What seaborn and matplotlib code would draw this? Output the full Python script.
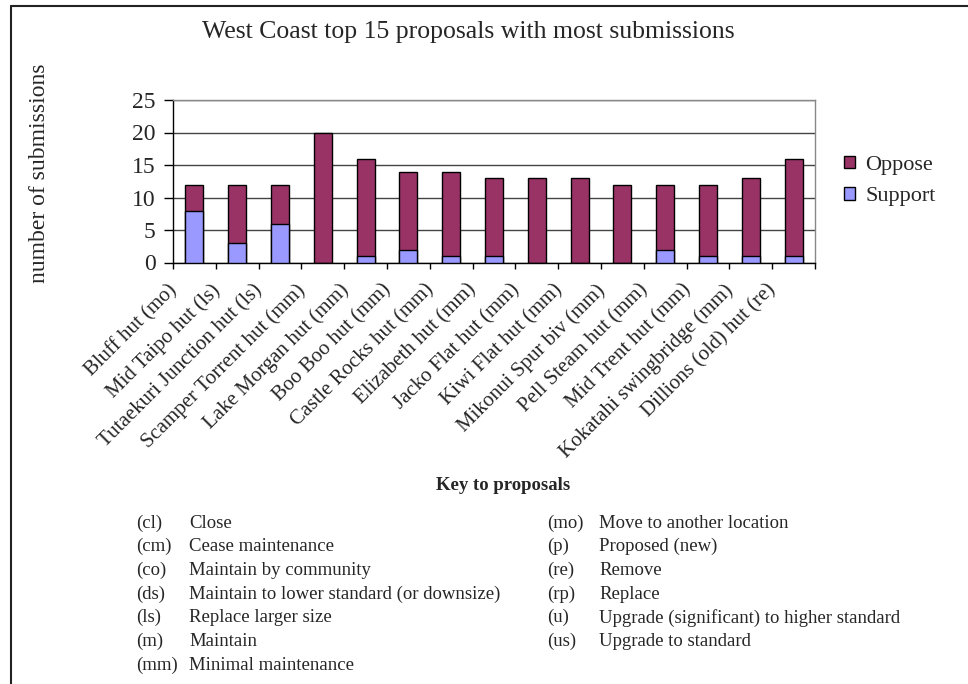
import numpy as np
import pandas as pd
import matplotlib
matplotlib.use("Agg")
import matplotlib.pyplot as plt
import matplotlib.transforms as mtransforms
from matplotlib.lines import Line2D
from matplotlib.patches import Patch
import seaborn as sns

# data
proposals = ["Bluff hut (mo)", "Mid Taipo hut (ls)", "Tutaekuri Junction hut (ls)",
             "Scamper Torrent hut (mm)", "Lake Morgan hut (mm)", "Boo Boo hut (mm)",
             "Castle Rocks hut (mm)", "Elizabeth hut (mm)", "Jacko Flat hut (mm)",
             "Kiwi Flat hut (mm)", "Mikonui Spur biv (mm)", "Pell Steam hut (mm)",
             "Mid Trent hut (mm)", "Kokatahi swingbridge (mm)", "Dillions (old) hut (re)"]
support = [8, 3, 6, 0, 1, 2, 1, 1, 0, 0, 0, 2, 1, 1, 1]
oppose = [4, 9, 6, 20, 15, 12, 13, 12, 13, 13, 12, 10, 11, 12, 15]

key_left = [("(cl)", "Close"), ("(cm)", "Cease maintenance"), ("(co)", "Maintain by community"),
            ("(ds)", "Maintain to lower standard (or downsize)"), ("(ls)", "Replace larger size"),
            ("(m)", "Maintain"), ("(mm)", "Minimal maintenance")]
key_right = [("(mo)", "Move to another location"), ("(p)", "Proposed (new)"), ("(re)", "Remove"),
             ("(rp)", "Replace"), ("(u)", "Upgrade (significant) to higher standard"),
             ("(us)", "Upgrade to standard")]

df = pd.DataFrame({"proposal": proposals, "support": support, "oppose": oppose})
df["total"] = df["support"] + df["oppose"]

sns.set_style("white")
plt.rcParams["font.family"] = ["Liberation Serif", "DejaVu Serif"]

W, H = 968, 684
fig = plt.figure(figsize=(W / 100, H / 100), dpi=100)
ax = fig.add_axes([173 / W, 1 - 262.5 / H, (815 - 173) / W, (262.5 - 100) / H])

oppose_c = "#993366"
support_c = "#9999FF"

sns.barplot(data=df, x="proposal", y="total", color=oppose_c, saturation=1,
            width=0.42, edgecolor="black", linewidth=1, ax=ax, zorder=3)
sns.barplot(data=df, x="proposal", y="support", color=support_c, saturation=1,
            width=0.42, edgecolor="black", linewidth=1, ax=ax, zorder=4)

ax.set_xlim(-0.5, len(proposals) - 0.5)
ax.set_ylim(0, 25)
ax.set_yticks(range(0, 26, 5))
ax.tick_params(axis="y", labelsize=17, length=6.5, width=1, direction="out", left=True,
               color="black", pad=6)
ax.set_xticks(range(len(proposals)))
ax.set_xticklabels(proposals, rotation=45, ha="right", rotation_mode="anchor", fontsize=15)
ax.tick_params(axis="x", length=0, pad=3.5)
ax.set_xticks(np.arange(-0.5, len(proposals), 1), minor=True)
ax.tick_params(axis="x", which="minor", length=4.5, width=1, direction="out", bottom=True, color="black")
shift = mtransforms.ScaledTranslation(-0.27, -0.13, fig.dpi_scale_trans)
for lab in ax.get_xticklabels():
    lab.set_transform(lab.get_transform() + shift)
ax.set_xlabel("")
ax.set_ylabel("")

ax.yaxis.grid(True, color="#444444", linewidth=1, zorder=0)
ax.set_axisbelow(True)
for s in ["left", "bottom"]:
    ax.spines[s].set_color("black")
    ax.spines[s].set_linewidth(1)
for s in ["top", "right"]:
    ax.spines[s].set_color("#888888")
    ax.spines[s].set_linewidth(1)
    ax.spines[s].set_visible(True)

handles = [Patch(facecolor=oppose_c, edgecolor="black", label="Oppose"),
           Patch(facecolor=support_c, edgecolor="black", label="Support")]
fig.legend(handles=handles, loc="center left", bbox_to_anchor=(824 / W, 1 - 181 / H),
           frameon=False, fontsize=16, handlelength=0.5, handleheight=0.5,
           handletextpad=0.45, labelspacing=0.55)

fig.text(468 / W, 1 - 32 / H, "West Coast top 15 proposals with most submissions",
         ha="center", va="center", fontsize=18.5)
fig.text(40 / W, 1 - 173 / H, "number of submissions", rotation=90,
         ha="center", va="center", fontsize=17)

fig.text(503 / W, 1 - 485 / H, "Key to proposals", ha="center", va="center",
         fontsize=13.5, fontweight="bold")
row_y = 523
for i, (code, desc) in enumerate(key_left):
    y = 1 - (row_y + i * 23.7) / H
    fig.text(136 / W, y, code, ha="left", va="center", fontsize=13.5)
    fig.text(189 / W, y, desc, ha="left", va="center", fontsize=13.5)
for i, (code, desc) in enumerate(key_right):
    y = 1 - (row_y + i * 23.7) / H
    fig.text(547 / W, y, code, ha="left", va="center", fontsize=13.5)
    fig.text(599 / W, y, desc, ha="left", va="center", fontsize=13.5)

# outer frame (left and top edges visible in the reference)
fig.add_artist(Line2D([11 / W, 11 / W], [0, 1 - 6 / H], color="#222222", linewidth=1.5))
fig.add_artist(Line2D([11 / W, 1], [1 - 6 / H, 1 - 6 / H], color="#222222", linewidth=1.5))

fig.savefig("out.png", dpi=100, facecolor="white")
